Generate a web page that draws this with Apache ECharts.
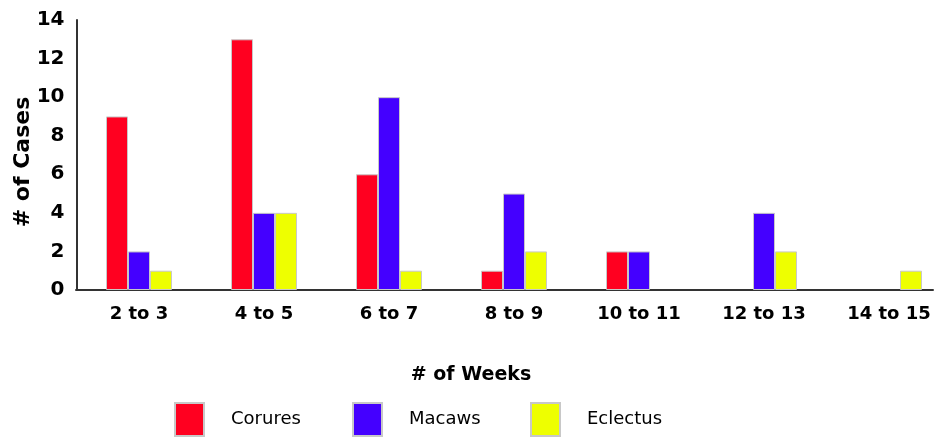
<!DOCTYPE html>
<html><head><meta charset="utf-8">
<script src="https://cdn.jsdelivr.net/npm/echarts@6/dist/echarts.min.js"></script>
<style>html,body{margin:0;padding:0;background:#fff}#c{width:938px;height:437px}</style>
</head><body><div id="c"></div>
<script>
var categories = ['2 to 3','4 to 5','6 to 7','8 to 9','10 to 11','12 to 13','14 to 15'];
var corures = [9, 13, 6, 1, 2, null, null];
var macaws = [2, 4, 10, 5, 2, 4, null];
var eclectus = [1, 4, 1, 2, null, 2, 1];
var yTicks = [0, 2, 4, 6, 8, 10, 12, 14];

var FONT = 'DejaVu Sans, Verdana, sans-serif';
var chart = echarts.init(document.getElementById('c'));
function bar(name, data, color) {
  return {
    name: name, type: 'bar', data: data, barWidth: 22, barGap: '0%',
    itemStyle: { color: color, borderColor: '#c8c8c8', borderWidth: 1 },
    xAxisIndex: 0, yAxisIndex: 0
  };
}
function leg(name, left) {
  return {
    data: [name], left: left, top: 397, itemWidth: 29, itemHeight: 33,
    icon: 'rect', selectedMode: false,
    textStyle: { fontFamily: FONT, fontSize: 18, color: '#000', padding: [0, 0, 0, 22] }
  };
}
chart.setOption({
  animation: false,
  backgroundColor: '#fff',
  color: ['#ff0020', '#4400ff', '#eeff00'],
  grid: [
    { left: 76.5, width: 875, top: 20, bottom: 147, containLabel: false, outerBoundsMode: 'none' },
    { left: 76, right: 5, top: 20, bottom: 147, containLabel: false, outerBoundsMode: 'none' }
  ],
  legend: [leg('Corures', 169), leg('Macaws', 347), leg('Eclectus', 525)],
  xAxis: [
    {
      type: 'category', data: categories, gridIndex: 0,
      axisLine: { show: false }, axisTick: { show: false },
      axisLabel: { fontFamily: FONT, fontSize: 18, fontWeight: 'bold', color: '#000', margin: 15 },
      name: '# of Weeks', nameLocation: 'middle', nameGap: 76, nameMoveOverlap: false,
      nameTextStyle: { fontFamily: FONT, fontSize: 19, fontWeight: 'bold', color: '#000', padding: [0, 0, 0, -86] }
    },
    {
      type: 'value', gridIndex: 1, min: 0, max: 1,
      axisLine: { show: true, onZero: false, lineStyle: { color: '#333', width: 2 } },
      axisTick: { show: false }, axisLabel: { show: false }, splitLine: { show: false }
    }
  ],
  yAxis: [
    {
      type: 'value', gridIndex: 0, min: 0, max: 14, interval: 2,
      axisLine: { show: true, lineStyle: { color: '#333', width: 2 } },
      axisTick: { show: false }, splitLine: { show: false },
      axisLabel: { fontFamily: FONT, fontSize: 20, fontWeight: 'bold', color: '#000', margin: 12,
        formatter: function (v) { return yTicks.indexOf(v) >= 0 ? String(v) : ''; } },
      name: '# of Cases', nameLocation: 'middle', nameGap: 42, nameRotate: 90, nameMoveOverlap: false,
      nameTextStyle: { fontFamily: FONT, fontSize: 22, fontWeight: 'bold', color: '#000', padding: [0, 14, 0, 0] }
    },
    {
      type: 'value', gridIndex: 1, min: 0, max: 1, show: false
    }
  ],
  series: [
    bar('Corures', corures, '#ff0020'),
    bar('Macaws', macaws, '#4400ff'),
    bar('Eclectus', eclectus, '#eeff00')
  ]
});
</script></body></html>
